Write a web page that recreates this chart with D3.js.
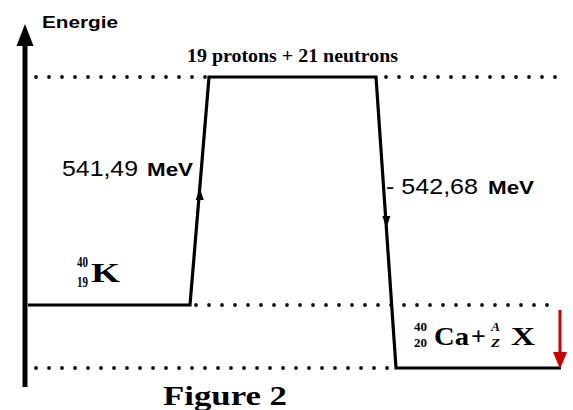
<!DOCTYPE html>
<html><head><meta charset="utf-8">
<script src="https://cdn.jsdelivr.net/npm/d3@7"></script>
<style>body{margin:0;background:#fff}svg{display:block}</style>
</head><body>
<svg id="c" width="573" height="410"></svg>
<script>
// Data
const levelNames = ["K", "nucleons", "CaX"];
const levelEnergies = [0, 541.49, -1.19]; // MeV relative to 40K
const transitionValues = ["541,49", "- 542,68"];
const transitionUnit = "MeV";
const topLabel = "19 protons + 21 neutrons";
const axisLabel = "Energie";
const figureTitle = "Figure 2";

const svg = d3.select("#c");
// Non-uniform (piecewise) energy scale, as in the schematic
const y = d3.scaleLinear().domain([-1.19, 0, 541.49]).range([368, 305, 77]);
const yK = y(levelEnergies[0]), yN = y(levelEnergies[1]), yC = y(levelEnergies[2]);

// Dotted guide lines
const dots = [
  [36, 206, yN], [386, 562, yN],
  [196, 556, yK],
  [36, 394, yC]
];
svg.selectAll("line.dot").data(dots).join("line")
  .attr("x1", d => d[0]).attr("x2", d => d[1])
  .attr("y1", d => d[2]).attr("y2", d => d[2])
  .attr("stroke", "#111").attr("stroke-width", 3.8)
  .attr("stroke-linecap", "round").attr("stroke-dasharray", "0 13");

// Energy path
const path = d3.line()([
  [28, yK], [190, yK], [209, yN], [376, yN], [396, yC], [561, yC]
]);
svg.append("path").attr("d", path).attr("fill", "none")
  .attr("stroke", "#000").attr("stroke-width", 3.2).attr("stroke-linejoin", "miter");

// Small arrowheads on the slanted legs
function tri(cx, tipY, dir, w, h) {
  return `M${cx},${tipY} L${cx - w / 2},${tipY - dir * h} L${cx + w / 2},${tipY - dir * h} Z`;
}
const xUp = yy => 190 + (209 - 190) * (yK - yy) / (yK - yN);
const xDn = yy => 376 + (396 - 376) * (yy - yN) / (yC - yN);
svg.append("path").attr("d", tri(xUp(188), 188, -1, 8, 12)).attr("fill", "#000");
svg.append("path").attr("d", tri(xDn(228), 228, 1, 8, 12)).attr("fill", "#000");

// Vertical energy axis
svg.append("line").attr("x1", 25).attr("x2", 25).attr("y1", 387).attr("y2", 40)
  .attr("stroke", "#000").attr("stroke-width", 5);
svg.append("path").attr("d", "M25,24 L16.5,46 L33.5,46 Z").attr("fill", "#000");

// Red arrow
svg.append("line").attr("x1", 560).attr("x2", 560).attr("y1", 310).attr("y2", 356)
  .attr("stroke", "#cc0000").attr("stroke-width", 3);
svg.append("path").attr("d", "M560,369 L553,352 L567,352 Z").attr("fill", "#cc0000");

// Texts
const sans = "Liberation Sans, Arial, sans-serif";
const serif = "Liberation Serif, Times New Roman, serif";

svg.append("text").attr("x", 42).attr("y", 28).text(axisLabel)
  .attr("font-family", sans).attr("font-weight", "bold").attr("font-size", 16)
  .attr("textLength", 76).attr("lengthAdjust", "spacingAndGlyphs");

svg.append("text").attr("x", 187).attr("y", 62).text(topLabel)
  .attr("font-family", serif).attr("font-weight", "bold").attr("font-size", 19)
  .attr("textLength", 211).attr("lengthAdjust", "spacingAndGlyphs");

// 541,49 MeV
svg.append("text").attr("x", 62).attr("y", 176).text(transitionValues[0])
  .attr("font-family", sans).attr("font-size", 22)
  .attr("textLength", 76).attr("lengthAdjust", "spacingAndGlyphs");
svg.append("text").attr("x", 147).attr("y", 176).text(transitionUnit)
  .attr("font-family", sans).attr("font-weight", "bold").attr("font-size", 18)
  .attr("textLength", 46).attr("lengthAdjust", "spacingAndGlyphs");

// - 542,68 MeV
svg.append("text").attr("x", 386).attr("y", 194).text(transitionValues[1])
  .attr("font-family", sans).attr("font-size", 22)
  .attr("textLength", 92).attr("lengthAdjust", "spacingAndGlyphs");
svg.append("text").attr("x", 488).attr("y", 194).text(transitionUnit)
  .attr("font-family", sans).attr("font-weight", "bold").attr("font-size", 18)
  .attr("textLength", 46).attr("lengthAdjust", "spacingAndGlyphs");

// Nuclide scripts
function nuc(x, yTop, yBot, a, z, w, fs, italic) {
  [[a, yTop], [z, yBot]].forEach(([t, yy]) => {
    svg.append("text").attr("x", x).attr("y", yy).text(t)
      .attr("font-family", serif).attr("font-weight", "bold").attr("font-size", fs)
      .attr("font-style", italic ? "italic" : "normal")
      .attr("textLength", w).attr("lengthAdjust", "spacingAndGlyphs");
  });
}
nuc(77, 267, 287, "40", "19", 11, 14.5, false);
svg.append("text").attr("x", 91).attr("y", 282).text("K")
  .attr("font-family", serif).attr("font-weight", "bold").attr("font-size", 28)
  .attr("textLength", 29).attr("lengthAdjust", "spacingAndGlyphs");

nuc(414, 331, 347, "40", "20", 13, 13.5, false);
svg.append("text").attr("x", 434).attr("y", 345).text("Ca")
  .attr("font-family", serif).attr("font-weight", "bold").attr("font-size", 26)
  .attr("textLength", 35).attr("lengthAdjust", "spacingAndGlyphs");
svg.append("text").attr("x", 471).attr("y", 345).text("+")
  .attr("font-family", serif).attr("font-weight", "bold").attr("font-size", 26);
nuc(491, 331, 347, "A", "Z", 9, 13.5, true);
svg.append("text").attr("x", 511).attr("y", 345).text("X")
  .attr("font-family", serif).attr("font-weight", "bold").attr("font-size", 26)
  .attr("textLength", 24).attr("lengthAdjust", "spacingAndGlyphs");

svg.append("text").attr("x", 163).attr("y", 405).text(figureTitle)
  .attr("font-family", serif).attr("font-weight", "bold").attr("font-size", 27)
  .attr("textLength", 124).attr("lengthAdjust", "spacingAndGlyphs");
</script>
</body></html>
